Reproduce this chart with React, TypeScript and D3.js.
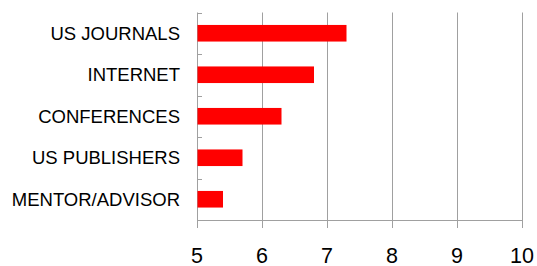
import { useEffect, useRef } from 'react'
import * as d3 from 'd3'

// categories listed top to bottom
const categories = ['US JOURNALS', 'INTERNET', 'CONFERENCES', 'US PUBLISHERS', 'MENTOR/ADVISOR']
const values = [7.3, 6.8, 6.3, 5.7, 5.4]
const xTicks = [5, 6, 7, 8, 9, 10]

const W = 537
const H = 266
const M = { top: 12.5, right: 15, bottom: 46, left: 197 }
const GRID = '#a0a0a0'

export default function App() {
  const ref = useRef<SVGSVGElement>(null)

  useEffect(() => {
    if (!ref.current) return
    const svg = d3.select(ref.current)
    svg.selectAll('*').remove()

    const x = d3.scaleLinear().domain([5, 10]).range([M.left, W - M.right])
    const y = d3.scaleBand<string>()
      .domain(categories)
      .range([M.top, H - M.bottom])
      .paddingInner(0.6)
      .paddingOuter(0.3)
    const bottom = H - M.bottom
    const step = y.step()
    const y0 = M.top

    // vertical gridlines (extend below axis as ticks)
    svg.selectAll('.grid').data(xTicks).join('line')
      .attr('x1', d => Math.round(x(d)) + 0.5).attr('x2', d => Math.round(x(d)) + 0.5)
      .attr('y1', y0).attr('y2', bottom + 8)
      .attr('stroke', GRID).attr('stroke-width', 1)

    // bottom axis
    svg.append('line')
      .attr('x1', x(5)).attr('x2', x(10))
      .attr('y1', bottom + 0.5).attr('y2', bottom + 0.5)
      .attr('stroke', GRID)

    // category boundary ticks
    svg.selectAll('.ctick').data(d3.range(categories.length + 1)).join('line')
      .attr('x1', x(5)).attr('x2', x(5) + 5)
      .attr('y1', d => Math.round(y0 + d * step) + 0.5)
      .attr('y2', d => Math.round(y0 + d * step) + 0.5)
      .attr('stroke', GRID)

    // bars
    svg.selectAll('.bar').data(categories).join('rect')
      .attr('x', x(5) + 0.5)
      .attr('y', d => y(d)!)
      .attr('width', (_, i) => x(values[i]) - x(5) - 0.5)
      .attr('height', y.bandwidth())
      .attr('fill', '#ff0000')

    // category labels
    svg.selectAll('.lab').data(categories).join('text')
      .attr('x', 180)
      .attr('y', d => y(d)! + y.bandwidth() / 2 + 6.5)
      .attr('text-anchor', 'end')
      .attr('font-family', 'Liberation Sans, Arial, sans-serif')
      .attr('font-size', 18.5)
      .attr('fill', '#000')
      .text(d => d)

    // x tick labels
    svg.selectAll('.xl').data(xTicks).join('text')
      .attr('x', d => x(d))
      .attr('y', 262.5)
      .attr('text-anchor', 'middle')
      .attr('font-family', 'Liberation Sans, Arial, sans-serif')
      .attr('font-size', 21.5)
      .attr('fill', '#000')
      .text(d => d)
  }, [])

  return (
    <svg ref={ref} width={W} height={H}
      style={{ position: 'absolute', left: 0, top: 0, background: '#fff', display: 'block' }} />
  )
}
